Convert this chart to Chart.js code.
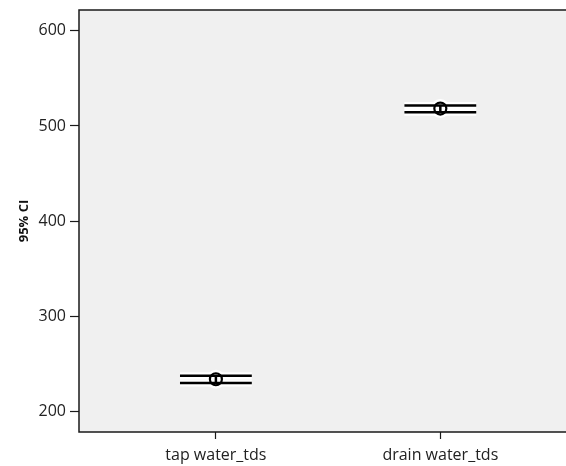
<!DOCTYPE html>
<html lang="en">
<head>
    <meta charset="UTF-8">
    <title>95% CI error bars</title>
    <script src="https://cdn.jsdelivr.net/npm/chart.js"></script>
    <style>
        html, body { margin: 0; padding: 0; background: #fff; overflow: hidden; }
        canvas { display: block; }
    </style>
</head>
<body>
    <canvas id="ciChart" width="566" height="466"></canvas>

    <script>
        // values
        const categories = ['tap water_tds', 'drain water_tds'];
        const means = [233.5, 518.3];
        const lowerCI = [229.5, 514.4];
        const upperCI = [237.3, 521.6];
        const yTicks = [200, 300, 400, 500, 600];

        const capHalf = 0.16; // half width of the whisker lines, in x units

        // one set of line datasets per category: halo (white) under black
        function lineSets(color, width, order) {
            var sets = [];
            categories.forEach(function (c, i) {
                var x = i + 1;
                [[{x: x - capHalf, y: upperCI[i]}, {x: x + capHalf, y: upperCI[i]}],
                 [{x: x - capHalf, y: lowerCI[i]}, {x: x + capHalf, y: lowerCI[i]}],
                 [{x: x, y: lowerCI[i]}, {x: x, y: upperCI[i]}]].forEach(function (pts) {
                    sets.push({
                        type: 'line',
                        data: pts,
                        borderColor: color,
                        borderWidth: width,
                        borderCapStyle: 'butt',
                        pointRadius: 0,
                        order: order
                    });
                });
            });
            return sets;
        }

        var meanPts = means.map(function (m, i) { return {x: i + 1, y: m}; });

        var datasets = []
            .concat(lineSets('#ffffff', 7, 5))
            .concat([{
                type: 'scatter', data: meanPts, pointRadius: 6.5, pointBorderWidth: 6,
                pointBorderColor: '#ffffff', pointBackgroundColor: 'rgba(0,0,0,0)', order: 4
            }])
            .concat(lineSets('#000000', 2.5, 3))
            .concat([{
                type: 'scatter', data: meanPts, pointRadius: 6, pointBorderWidth: 2.2,
                pointBorderColor: '#000000', pointBackgroundColor: 'rgba(0,0,0,0)', order: 1
            }]);

        const frame = {
            id: 'frame',
            beforeDraw(chart) {
                var a = chart.chartArea, ctx = chart.ctx;
                ctx.save();
                ctx.fillStyle = '#f0f0f0';
                ctx.fillRect(a.left, a.top, a.right - a.left, a.bottom - a.top);
                ctx.restore();
            },
            afterDraw(chart) {
                var a = chart.chartArea, ctx = chart.ctx;
                ctx.save();
                ctx.strokeStyle = '#1a1a1a';
                ctx.lineWidth = 1.5;
                ctx.beginPath();
                ctx.moveTo(a.right + 2, a.top);
                ctx.lineTo(a.left, a.top);
                ctx.lineTo(a.left, a.bottom);
                ctx.lineTo(a.right + 2, a.bottom);
                ctx.stroke();
                ctx.restore();
            }
        };

        new Chart(document.getElementById('ciChart'), {
            data: { datasets: datasets },
            plugins: [frame],
            options: {
                responsive: false,
                animation: false,
                layout: { autoPadding: false, padding: { top: 10, right: 0, left: 16, bottom: 0 } },
                plugins: { legend: { display: false }, tooltip: { enabled: false } },
                scales: {
                    x: {
                        type: 'linear',
                        min: 0.39,
                        max: 2.56,
                        afterBuildTicks: function (s) { s.ticks = categories.map(function (c, i) { return {value: i + 1}; }); },
                        afterFit: function (s) { s.height = 34; s.paddingLeft = 0; s.paddingRight = 0; },
                        grid: { drawOnChartArea: false, tickLength: 7, tickColor: '#1a1a1a', tickWidth: 1.2 },
                        border: { display: false },
                        ticks: {
                            callback: function (v) { return categories[v - 1]; },
                            color: '#222',
                            padding: 7,
                            maxRotation: 0,
                            font: { family: 'Open Sans', size: 16 }
                        }
                    },
                    y: {
                        min: 178,
                        max: 622,
                        afterBuildTicks: function (s) { s.ticks = yTicks.map(function (v) { return {value: v}; }); },
                        afterFit: function (s) { s.width = 63; s.paddingTop = 0; s.paddingBottom = 0; },
                        grid: { drawOnChartArea: false, tickLength: 9, tickColor: '#1a1a1a', tickWidth: 1.2 },
                        border: { display: false },
                        title: {
                            display: true,
                            text: '95% CI',
                            color: '#111',
                            padding: 0,
                            font: { family: 'Open Sans', size: 13, weight: 'bold' }
                        },
                        ticks: {
                            color: '#222',
                            padding: 4,
                            font: { family: 'Open Sans', size: 16 }
                        }
                    }
                }
            }
        });
    </script>
</body>
</html>
